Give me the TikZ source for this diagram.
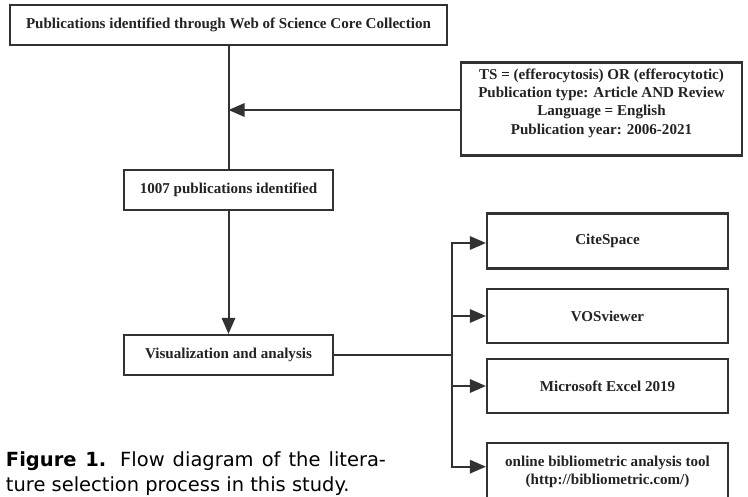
\documentclass[tikz,border=0pt]{standalone}
\usepackage{fontspec}
\setmainfont{Liberation Serif}
\newfontfamily\capfont{DejaVu Sans}
\usetikzlibrary{arrows.meta}

\definecolor{linegray}{RGB}{50,50,50}
\definecolor{textgray}{RGB}{35,35,35}

\tikzset{
	every picture/.style={line width=1.5pt},
	flowbox/.style={draw=linegray, line width=1.6pt, rectangle, inner sep=0pt,
		font=\fontsize{11.3}{13.8}\selectfont\bfseries, text=textgray, align=center},
	flowtext/.style={inner sep=0pt, font=\fontsize{11.3}{13.8}\selectfont\bfseries,
		text=textgray, align=center},
	arr/.style={draw=linegray, -{Triangle[length=12pt,width=10pt]}},
	plain/.style={draw=linegray},
	captext/.style={font=\capfont\fontsize{14.6}{18.8}\selectfont, align=left, inner sep=0pt}
}

\begin{document}
\begin{tikzpicture}[x=0.75pt,y=0.75pt,yscale=-1,xscale=1]
	\useasboundingbox (0,0) rectangle (748,496);

	%Shape: Rectangle [top]
	\node[flowbox, minimum width=327.75pt, minimum height=30pt] (wos) at (228.5,25)
		{\raisebox{-1.5pt}{Publications identified through Web of Science Core Collection}};
	%Shape: Rectangle [criteria]
	\node[flowbox, minimum width=210.75pt, minimum height=69.75pt] (crit) at (601.5,109) {};
	% Text Node
	\node[flowtext] (crittext) at (601.5,103)
		{TS = (efferocytosis) OR (efferocytotic)\\
		 Publication type: Article AND Review\\
		 Language = English\\
		 Publication year: 2006-2021};
	%Shape: Rectangle [1007]
	\node[flowbox, minimum width=156.75pt, minimum height=30pt] (found) at (228.5,190)
		{\raisebox{-1.5pt}{1007 publications identified}};
	%Shape: Rectangle [analysis]
	\node[flowbox, minimum width=156.75pt, minimum height=30pt] (vis) at (228.5,355)
		{Visualization and analysis};
	%Shape: Rectangle [tools]
	\node[flowbox, minimum width=180.75pt, minimum height=41.25pt] (cite) at (607.5,241)
		{\raisebox{-1.5pt}{CiteSpace}};
	\node[flowbox, minimum width=180.75pt, minimum height=40.5pt] (vos) at (607.5,316)
		{VOSviewer};
	\node[flowbox, minimum width=180.75pt, minimum height=40.5pt] (excel) at (607.5,386)
		{Microsoft Excel 2019};
	\node[flowbox, minimum width=180.75pt, minimum height=43.5pt] (online) at (607.5,472)
		{online bibliometric analysis tool\\(http://bibliometric.com/)};

	%Straight Lines
	\coordinate (join) at (228.5,110);
	\coordinate (bus) at (452,355);
	\draw[plain] (wos.south) -- (found.north);
	\draw[arr] (crit.west |- join) -- (join);
	\draw[arr] (found.south) -- (vis.north);
	\draw[plain] (vis.east) -- (bus);
	\draw[arr] (bus) |- ([yshift=1.5]cite.west);
	\draw[arr] (bus) |- (vos.west);
	\draw[arr] (bus) |- (excel.west);
	\draw[arr] (bus) |- ([yshift=-4]online.west);

	% Text Node
	\node[captext, anchor=north west] (caption) at (5,451)
		{\makebox[285pt][s]{\textbf{Figure 1.} Flow diagram of the litera-}\\
		 ture selection process in this study.};

\end{tikzpicture}
\end{document}
